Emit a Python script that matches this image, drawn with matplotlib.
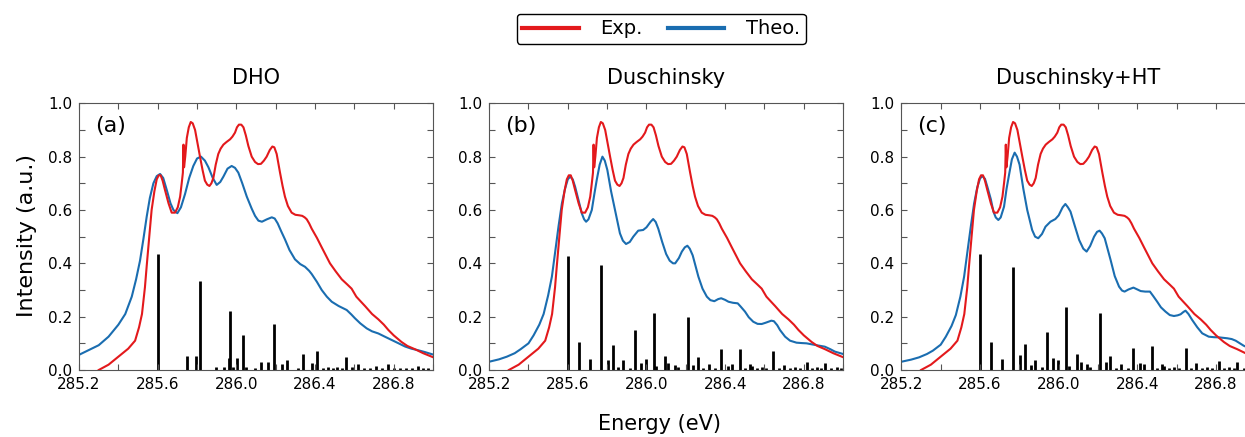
import matplotlib
matplotlib.use("Agg")
import matplotlib.pyplot as plt
from matplotlib.ticker import MultipleLocator

# ─────────────────────────────────────────────
# DATA
# ─────────────────────────────────────────────

exp_energy = [
    285.30, 285.35, 285.40, 285.45, 285.485, 285.505, 285.52, 285.535, 285.544, 285.557,
    285.569, 285.583, 285.595, 285.605, 285.615, 285.625, 285.637, 285.655, 285.671, 285.688,
    285.702, 285.714, 285.722, 285.728, 285.731, 285.734, 285.740, 285.748, 285.758, 285.768,
    285.778, 285.79, 285.80, 285.815, 285.828, 285.84, 285.852, 285.863, 285.873, 285.883,
    285.895, 285.908, 285.92, 285.934, 285.95, 285.968, 285.98, 285.993, 286.003, 286.013,
    286.025, 286.036, 286.048, 286.061, 286.078, 286.095, 286.11, 286.125, 286.14, 286.154,
    286.17, 286.183, 286.193, 286.205, 286.222, 286.235, 286.247, 286.262, 286.281, 286.30,
    286.32, 286.335, 286.348, 286.358, 286.37, 286.383, 286.41, 286.434, 286.455, 286.476,
    286.505, 286.536, 286.565, 286.586, 286.61, 286.635, 286.654, 286.69, 286.722, 286.75,
    286.773, 286.80, 286.84, 286.87, 286.908, 286.95, 287.0,
]
exp_intensity = [
    0.0, 0.02, 0.05, 0.08, 0.11, 0.16, 0.21, 0.31, 0.39, 0.50,
    0.60, 0.67, 0.715, 0.73, 0.73, 0.71, 0.675, 0.625, 0.59, 0.59,
    0.61, 0.65, 0.70, 0.74, 0.845, 0.76, 0.80, 0.87, 0.91, 0.93,
    0.925, 0.90, 0.86, 0.80, 0.75, 0.71, 0.695, 0.69, 0.70, 0.72,
    0.77, 0.81, 0.83, 0.845, 0.855, 0.865, 0.875, 0.89, 0.91, 0.92,
    0.92, 0.91, 0.88, 0.84, 0.80, 0.78, 0.772, 0.773, 0.785, 0.80,
    0.825, 0.838, 0.835, 0.81, 0.74, 0.69, 0.65, 0.615, 0.59, 0.582,
    0.58, 0.578, 0.572, 0.565, 0.55, 0.53, 0.495, 0.46, 0.43, 0.40,
    0.37, 0.34, 0.32, 0.305, 0.275, 0.255, 0.24, 0.21, 0.19, 0.17,
    0.15, 0.13, 0.105, 0.09, 0.078, 0.063, 0.048,
]

# DHO theory
dho_energy = [
    285.2, 285.25, 285.30, 285.35, 285.40, 285.435, 285.468, 285.49, 285.51, 285.527,
    285.544, 285.56, 285.578, 285.595, 285.612, 285.628, 285.646, 285.665, 285.68, 285.70,
    285.718, 285.739, 285.76, 285.781, 285.80, 285.82, 285.84, 285.858, 285.88, 285.90,
    285.918, 285.934, 285.955, 285.976, 285.993, 286.01, 286.03, 286.053, 286.078, 286.095,
    286.112, 286.13, 286.155, 286.18, 286.195, 286.21, 286.228, 286.247, 286.27, 286.298,
    286.325, 286.349, 286.37, 286.383, 286.41, 286.434, 286.46, 286.485, 286.52, 286.561,
    286.585, 286.603, 286.63, 286.663, 286.69, 286.722, 286.755, 286.79, 286.825, 286.858,
    286.89, 286.925, 286.96, 287.0,
]
dho_intensity = [
    0.057, 0.075, 0.093, 0.125, 0.17, 0.21, 0.275, 0.34, 0.41, 0.49,
    0.575, 0.645, 0.70, 0.727, 0.735, 0.72, 0.675, 0.625, 0.60, 0.588,
    0.61, 0.66, 0.72, 0.765, 0.793, 0.80, 0.785, 0.76, 0.72, 0.694,
    0.705, 0.725, 0.755, 0.765, 0.758, 0.74, 0.70, 0.65, 0.605, 0.578,
    0.56, 0.556, 0.565, 0.5725, 0.568, 0.55, 0.52, 0.49, 0.45, 0.415,
    0.397, 0.387, 0.372, 0.36, 0.33, 0.30, 0.275, 0.256, 0.24, 0.225,
    0.208, 0.194, 0.175, 0.156, 0.145, 0.137, 0.125, 0.1125, 0.10, 0.088,
    0.08, 0.074, 0.067, 0.058,
]

# Duschinsky theory
dus_energy = [
    285.2, 285.25, 285.29, 285.33, 285.36, 285.40, 285.426, 285.455, 285.477, 285.50,
    285.519, 285.537, 285.553, 285.57, 285.586, 285.60, 285.612, 285.625, 285.637, 285.655,
    285.671, 285.683, 285.693, 285.705, 285.722, 285.735, 285.747, 285.762, 285.776, 285.788,
    285.801, 285.82, 285.84, 285.865, 285.88, 285.896, 285.915, 285.933, 285.958, 285.983,
    286.0, 286.02, 286.034, 286.047, 286.06, 286.08, 286.10, 286.118, 286.135, 286.146,
    286.165, 286.18, 286.195, 286.208, 286.22, 286.235, 286.264, 286.285, 286.307, 286.325,
    286.345, 286.365, 286.38, 286.40, 286.417, 286.44, 286.464, 286.48, 286.501, 286.52,
    286.543, 286.565, 286.586, 286.605, 286.62, 286.635, 286.648, 286.665, 286.679, 286.705,
    286.73, 286.763, 286.79, 286.814, 286.857, 286.88, 286.907, 286.935, 286.958, 287.0,
]
dus_intensity = [
    0.031, 0.04, 0.05, 0.063, 0.078, 0.10, 0.13, 0.17, 0.21, 0.28,
    0.35, 0.45, 0.54, 0.625, 0.68, 0.715, 0.725, 0.715, 0.6875, 0.635,
    0.5875, 0.565, 0.556, 0.565, 0.60, 0.66, 0.7125, 0.77, 0.80, 0.785,
    0.75, 0.67, 0.60, 0.5125, 0.485, 0.4725, 0.48, 0.50, 0.5225, 0.525,
    0.535, 0.555, 0.566, 0.555, 0.53, 0.48, 0.435, 0.41, 0.40, 0.40,
    0.42, 0.444, 0.46, 0.466, 0.455, 0.43, 0.35, 0.305, 0.275, 0.262,
    0.258, 0.266, 0.269, 0.263, 0.256, 0.252, 0.25, 0.237, 0.219, 0.198,
    0.181, 0.173, 0.1725, 0.177, 0.181, 0.185, 0.183, 0.168, 0.15, 0.125,
    0.11, 0.1025, 0.101, 0.10, 0.094, 0.091, 0.0875, 0.078, 0.069, 0.06,
]

# Duschinsky+HT theory
dht_energy = [
    285.2, 285.25, 285.29, 285.33, 285.36, 285.40, 285.426, 285.455, 285.477, 285.50,
    285.519, 285.537, 285.553, 285.57, 285.586, 285.60, 285.612, 285.625, 285.637, 285.655,
    285.668, 285.68, 285.693, 285.705, 285.722, 285.735, 285.747, 285.762, 285.776, 285.788,
    285.801, 285.82, 285.84, 285.865, 285.88, 285.896, 285.915, 285.933, 285.958, 285.983,
    286.0, 286.02, 286.034, 286.047, 286.06, 286.08, 286.104, 286.125, 286.142, 286.16,
    286.18, 286.195, 286.208, 286.22, 286.234, 286.264, 286.285, 286.307, 286.322, 286.335,
    286.355, 286.38, 286.40, 286.417, 286.44, 286.464, 286.48, 286.501, 286.52, 286.543,
    286.565, 286.586, 286.605, 286.62, 286.635, 286.645, 286.66, 286.679, 286.705, 286.73,
    286.763, 286.79, 286.814, 286.857, 286.88, 286.90, 286.941, 287.0,
]
dht_intensity = [
    0.031, 0.039, 0.0475, 0.06, 0.0725, 0.095, 0.125, 0.165, 0.206, 0.275,
    0.35, 0.45, 0.5375, 0.625, 0.685, 0.718, 0.7275, 0.717, 0.6875, 0.64,
    0.594, 0.572, 0.5625, 0.572, 0.6125, 0.68, 0.73, 0.79, 0.815, 0.80,
    0.77, 0.68, 0.60, 0.525, 0.50, 0.494, 0.51, 0.5375, 0.556, 0.566,
    0.58, 0.61, 0.6225, 0.61, 0.594, 0.545, 0.4875, 0.455, 0.444, 0.465,
    0.50, 0.518, 0.5225, 0.512, 0.494, 0.4125, 0.352, 0.3125, 0.298, 0.294,
    0.302, 0.309, 0.302, 0.296, 0.294, 0.294, 0.278, 0.256, 0.235, 0.219,
    0.206, 0.2025, 0.205, 0.209, 0.218, 0.2225, 0.21, 0.1875, 0.16, 0.1375,
    0.125, 0.123, 0.1225, 0.119, 0.116, 0.11, 0.091, 0.072,
]

# stick spectra
dho_sticks_e = [
    285.600, 285.747, 285.793, 285.817, 285.895, 285.939, 285.963, 285.968, 285.985, 286.005,
    286.036, 286.05, 286.095, 286.124, 286.163, 286.19, 286.234, 286.256, 286.315, 286.341,
    286.383, 286.408, 286.44, 286.468, 286.49, 286.51, 286.535, 286.559, 286.586, 286.62,
    286.65, 286.68, 286.708, 286.74, 286.773, 286.80, 286.83, 286.865, 286.895, 286.925,
    286.95, 286.975,
]
dho_sticks_h = [
    0.435, 0.054, 0.054, 0.334, 0.012, 0.012, 0.044, 0.2225, 0.012, 0.044,
    0.13, 0.012, 0.006, 0.031, 0.029, 0.171, 0.021, 0.0375, 0.009, 0.06,
    0.025, 0.071, 0.008, 0.01, 0.008, 0.01, 0.008, 0.0475, 0.01, 0.021,
    0.008, 0.008, 0.015, 0.008, 0.021, 0.008, 0.008, 0.008, 0.008, 0.015,
    0.008, 0.008,
]

dus_sticks_e = [
    285.600, 285.656, 285.711, 285.769, 285.806, 285.828, 285.857, 285.882, 285.916, 285.941,
    285.972, 286.000, 286.037, 286.05, 286.095, 286.112, 286.146, 286.16, 286.21, 286.239,
    286.261, 286.29, 286.318, 286.35, 286.379, 286.413, 286.433, 286.474, 286.50, 286.527,
    286.538, 286.56, 286.586, 286.61, 286.645, 286.672, 286.70, 286.73, 286.755, 286.78,
    286.814, 286.84, 286.865, 286.89, 286.907, 286.94, 286.97, 286.99,
]
dus_sticks_h = [
    0.4275, 0.104, 0.04, 0.3925, 0.0375, 0.095, 0.0125, 0.0375, 0.009, 0.15,
    0.0275, 0.04, 0.2125, 0.016, 0.0525, 0.025, 0.019, 0.0125, 0.1975, 0.019,
    0.05, 0.008, 0.021, 0.008, 0.0775, 0.016, 0.021, 0.0775, 0.008, 0.021,
    0.016, 0.008, 0.0125, 0.008, 0.071, 0.008, 0.019, 0.008, 0.0125, 0.008,
    0.031, 0.008, 0.0125, 0.008, 0.025, 0.008, 0.0125, 0.008,
]

dht_sticks_e = [
    285.600, 285.656, 285.711, 285.769, 285.802, 285.828, 285.857, 285.882, 285.916, 285.941,
    285.972, 285.997, 286.037, 286.05, 286.093, 286.112, 286.146, 286.16, 286.21, 286.239,
    286.261, 286.29, 286.318, 286.35, 286.379, 286.413, 286.433, 286.474, 286.50, 286.527,
    286.538, 286.56, 286.586, 286.61, 286.645, 286.672, 286.70, 286.73, 286.755, 286.78,
    286.814, 286.84, 286.865, 286.89, 286.907, 286.94,
]
dht_sticks_h = [
    0.434, 0.104, 0.04, 0.3875, 0.056, 0.096, 0.019, 0.0375, 0.0125, 0.141,
    0.044, 0.0375, 0.2375, 0.016, 0.06, 0.031, 0.021, 0.0125, 0.215, 0.031,
    0.054, 0.008, 0.021, 0.008, 0.081, 0.025, 0.021, 0.09, 0.008, 0.021,
    0.016, 0.008, 0.0125, 0.008, 0.084, 0.008, 0.025, 0.008, 0.0125, 0.008,
    0.034, 0.008, 0.0125, 0.008, 0.031, 0.008,
]

titles = ["DHO", "Duschinsky", "Duschinsky+HT"]
panel_labels = ["(a)", "(b)", "(c)"]

# ─────────────────────────────────────────────
# FIGURE
# ─────────────────────────────────────────────

RED = "#e3191c"
BLUE = "#1a6db0"

fig = plt.figure(figsize=(12.45, 4.37), dpi=100)

lefts = [0.0635, 0.3929, 0.7240]
theo = [
    (dho_energy, dho_intensity, dho_sticks_e, dho_sticks_h),
    (dus_energy, dus_intensity, dus_sticks_e, dus_sticks_h),
    (dht_energy, dht_intensity, dht_sticks_e, dht_sticks_h),
]

lines = None
for i, left in enumerate(lefts):
    ax = fig.add_axes([left, 0.1533, 0.2843, 0.6103])
    th_e, th_i, st_e, st_h = theo[i]

    ax.vlines(st_e, 0, st_h, color="black", lw=2.0, zorder=1)
    l1, = ax.plot(exp_energy, exp_intensity, color=RED, lw=1.5, label="Exp.", zorder=3)
    l2, = ax.plot(th_e, th_i, color=BLUE, lw=1.5, label="Theo.", zorder=2)
    lines = [l1, l2]

    ax.set_xlim(285.2, 287.0)
    ax.set_ylim(0, 1.0)
    ax.xaxis.set_major_locator(MultipleLocator(0.4))
    ax.xaxis.set_minor_locator(MultipleLocator(0.2))
    ax.yaxis.set_major_locator(MultipleLocator(0.2))
    ax.yaxis.set_minor_locator(MultipleLocator(0.1))
    ax.xaxis.set_major_formatter(plt.FuncFormatter(lambda v, p: f"{v:.1f}"))
    ax.yaxis.set_major_formatter(plt.FuncFormatter(lambda v, p: f"{v:.1f}"))
    ax.tick_params(which="both", direction="in", top=True, right=True,
                   color="#555555", width=0.8)
    ax.tick_params(which="major", length=4, labelsize=11, pad=5)
    ax.tick_params(which="minor", length=4)
    for s in ax.spines.values():
        s.set_color("#555555")
        s.set_linewidth(0.8)

    ax.set_title(titles[i], fontsize=15, pad=14)
    ax.text(0.045, 0.915, panel_labels[i], transform=ax.transAxes,
            fontsize=16, va="center", ha="left")

fig.text(0.022, 0.46, "Intensity (a.u.)", rotation=90, fontsize=16,
         ha="center", va="center")
fig.text(0.53, 0.03, "Energy (eV)", fontsize=15, ha="center", va="center")

fig.legend(lines, ["Exp.", "Theo."], loc="center", bbox_to_anchor=(0.531, 0.934),
           ncol=2, fontsize=14, frameon=True, edgecolor="black", fancybox=True,
           handlelength=2.9, columnspacing=1.3, handletextpad=1.1,
           borderpad=0.3, framealpha=1)
for h in fig.legends[0].get_lines():
    h.set_linewidth(3)

plt.savefig("out.png", dpi=100)
